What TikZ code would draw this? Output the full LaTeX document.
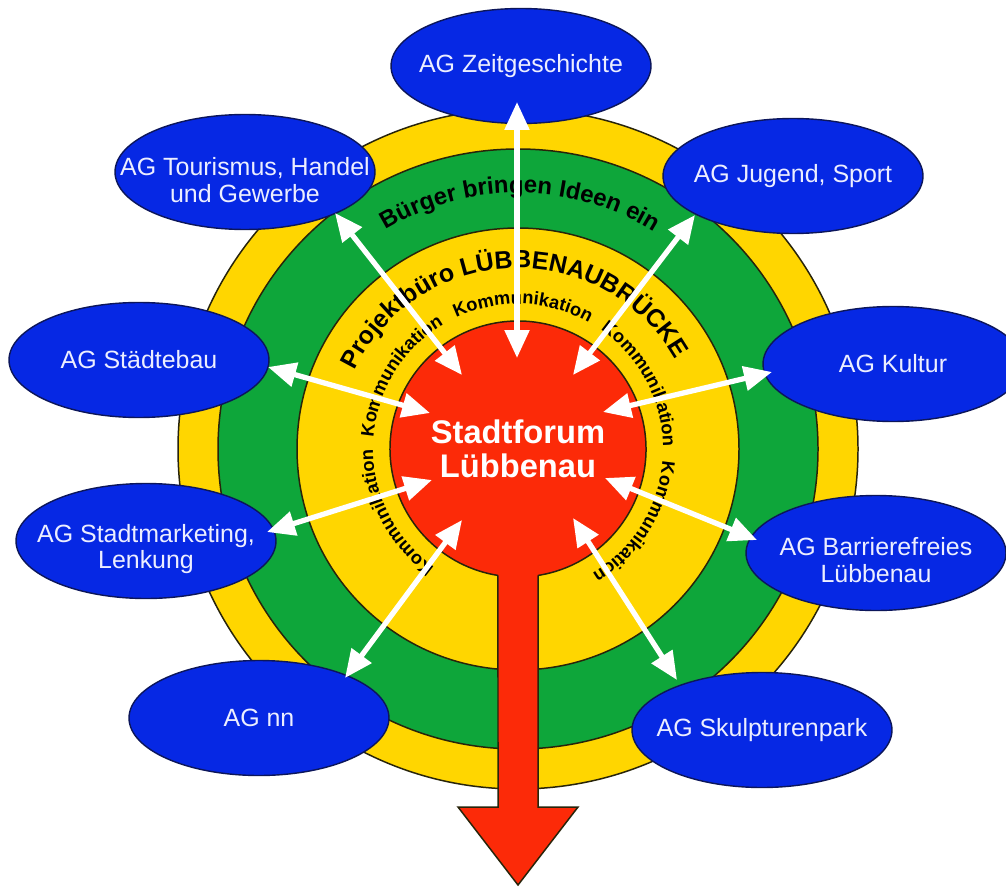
\documentclass[tikz,border=0pt]{standalone}
\usepackage{fontspec}
\setmainfont{Liberation Sans}
\usetikzlibrary{shapes.geometric,arrows.meta,decorations.text,calc}
\definecolor{ringyellow}{RGB}{255,214,0}
\definecolor{ringgreen}{RGB}{14,166,58}
\definecolor{forumred}{RGB}{252,42,8}
\definecolor{agblue}{RGB}{6,40,228}
\definecolor{agline}{RGB}{12,22,90}
\definecolor{agtext}{RGB}{236,238,255}
\definecolor{ringline}{RGB}{40,36,10}
\begin{document}
\begin{tikzpicture}[x=0.02cm,y=0.02cm,
  ring/.style={draw=ringline, line width=0.85pt},
  ag/.style={ellipse, fill=agblue, draw=agline, line width=0.8pt, minimum width=5.2cm, minimum height=2.3cm, inner sep=0pt},
  agtxt/.style={text=agtext, align=center, font=\fontsize{14.2pt}{15.3pt}\selectfont, inner sep=0pt},
  link/.style={draw=white, line width=3pt, {Triangle[length=0.56cm,width=0.48cm]}-{Triangle[length=0.56cm,width=0.48cm]}},
  kom/.style={decorate, decoration={text along path, text align=center, text={|\bfseries\fontsize{10.4pt}{12pt}\selectfont|Kommunikation}}}
]
\useasboundingbox (0,0) rectangle (1006,887);
\fill[white] (0,0) rectangle (1006,887);
\clip (0,0) rectangle (1006,887);
\coordinate (C) at (518,438);
% rings
\draw[ring, fill=ringyellow] (C) circle[radius=340];
\draw[ring, fill=ringgreen] (C) circle[radius=300];
\draw[ring, fill=ringyellow] (C) circle[radius=221];
% red arrow and forum circle
\fill[forumred] (498,400) -- (498,80) -- (458,80) -- (518,2) -- (578,80) -- (538,80) -- (538,400) -- cycle;
\node[circle, fill=forumred, minimum size=5.12cm, inner sep=0pt, text=white, align=center,
      font=\bfseries\fontsize{18.6pt}{19.5pt}\selectfont] (sf) at (C) {Stadtforum\\Lübbenau};
\draw[ring] ($(C)+(-81:128)$) arc[start angle=-81, end angle=261, radius=128];
\draw[ring] ($(C)+(-99:128)$) -- (498,80) -- (458,80) -- (518,2) -- (578,80) -- (538,80) -- ($(C)+(-81:128)$);
% curved texts
\path[decorate, decoration={text along path, text align=center,
  text={|\bfseries\fontsize{13.6pt}{15pt}\selectfont|Bürger bringen Ideen ein}}]
  ($(C)+(150:256)$) arc[start angle=150, end angle=29, radius=256];
\path[decorate, decoration={text along path, text align=center,
  text={|\bfseries\fontsize{14.2pt}{16pt}\selectfont|Projektbüro LÜBBENAUBRÜCKE}}]
  ($(C)+(170:181)$) arc[start angle=170, end angle=14, radius=181];
\path[kom] ($(C)+(128:145)$) arc[start angle=128, end angle=48, radius=145];
\path[kom] ($(C)+(188:145)$) arc[start angle=188, end angle=108, radius=145];
\path[kom] ($(C)+(247.5:145)$) arc[start angle=247.5, end angle=167.5, radius=145];
\path[kom] ($(C)+(68:145)$) arc[start angle=68, end angle=-12, radius=145];
\path[kom] ($(C)+(8:145)$) arc[start angle=8, end angle=-72, radius=145];
% AG ellipses
\node[ag] (zeit) at (521,821) {};
\node[agtxt] at (zeit) {AG Zeitgeschichte};
\node[ag] (tour) at (245,715) {};
\node[agtxt] at ($(tour)+(0,-8)$) {AG Tourismus, Handel\\und Gewerbe};
\node[ag] (jug) at (793,711) {};
\node[agtxt] at (jug) {AG Jugend, Sport};
\node[ag] (stb) at (139,527) {};
\node[agtxt] at (stb) {AG Städtebau};
\node[ag] (kul) at (893,523) {};
\node[agtxt] at (kul) {AG Kultur};
\node[ag] (smk) at (146,346) {};
\node[agtxt] at ($(smk)+(0,-8)$) {AG Stadtmarketing,\\Lenkung};
\node[ag] (bar) at (876,334) {};
\node[agtxt] at ($(bar)+(0,-7)$) {AG Barrierefreies\\Lübbenau};
\node[ag] (nn) at (259,169) {};
\node[agtxt] at (nn) {AG nn};
\node[ag] (sku) at (762,157) {};
\node[agtxt] at (sku) {AG Skulpturenpark};
% arrow end points
\coordinate (zeitI) at (517,529); \coordinate (zeitO) at (517,785);
\coordinate (tourI) at (462,512); \coordinate (tourO) at (335,674);
\coordinate (jugI) at (573,512);  \coordinate (jugO) at (695,672);
\coordinate (stbI) at (430,474);  \coordinate (stbO) at (268,520);
\coordinate (kulI) at (603,475);  \coordinate (kulO) at (772,515);
\coordinate (smkI) at (432,407);  \coordinate (smkO) at (267,355);
\coordinate (barI) at (605,409);  \coordinate (barO) at (757,347);
\coordinate (nnI) at (462,367);   \coordinate (nnO) at (345,209);
\coordinate (skuI) at (573,369);  \coordinate (skuO) at (677,207);
\foreach \a in {zeit,tour,jug,stb,kul,smk,bar,nn,sku}
  \draw[link] (\a I) -- (\a O);
\end{tikzpicture}
\end{document}
